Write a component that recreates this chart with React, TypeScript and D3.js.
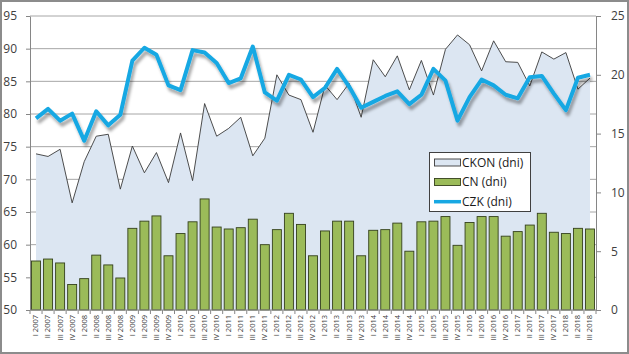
import { useEffect, useRef } from "react";
import * as d3 from "d3";

const categories = [
  "I 2007", "II 2007", "III 2007", "IV 2007",
  "I 2008", "II 2008", "III 2008", "IV 2008",
  "I 2009", "II 2009", "III 2009", "IV 2009",
  "I 2010", "II 2010", "III 2010", "IV 2010",
  "I 2011", "II 2011", "III 2011", "IV 2011",
  "I 2012", "II 2012", "III 2012", "IV 2012",
  "I 2013", "II 2013", "III 2013", "IV 2013",
  "I 2014", "II 2014", "III 2014", "IV 2014",
  "I 2015", "II 2015", "III 2015", "IV 2015",
  "I 2016", "II 2016", "III 2016", "IV 2016",
  "I 2017", "II 2017", "III 2017", "IV 2017",
  "I 2018", "II 2018", "III 2018",
];

// CKON (dni) - area, left axis
const ckonValues = [
  73.9, 73.5, 74.6, 66.4, 72.7, 76.6, 76.9, 68.5,
  75.1, 71.0, 74.1, 69.5, 77.1, 69.8, 81.6, 76.6,
  77.8, 79.5, 73.6, 76.3, 86.0, 82.9, 82.2, 77.2,
  84.4, 82.2, 84.7, 79.5, 88.3, 85.7, 88.9, 83.7,
  88.2, 82.9, 89.9, 92.1, 90.6, 86.6, 91.2, 88.0,
  87.9, 84.3, 89.5, 88.4, 89.4, 83.8, 85.5,
];

// CN (dni) - bars, left axis
const cnValues = [
  57.5, 57.8, 57.2, 53.9, 54.8, 58.4, 56.9, 54.9,
  62.5, 63.6, 64.4, 58.3, 61.7, 63.5, 67.0, 62.7,
  62.4, 62.6, 63.9, 60.0, 62.3, 64.8, 63.1, 58.3,
  62.1, 63.6, 63.6, 58.3, 62.2, 62.3, 63.3, 59.0,
  63.5, 63.6, 64.3, 59.9, 63.4, 64.3, 64.3, 61.3,
  62.0, 63.0, 64.8, 61.9, 61.7, 62.5, 62.4,
];

// CZK (dni) - line, right axis
const czkValues = [
  16.3, 17.1, 16.1, 16.7, 14.4, 16.9, 15.7, 16.6,
  21.2, 22.3, 21.7, 19.1, 18.7, 22.1, 21.9, 21.0,
  19.3, 19.7, 22.4, 18.5, 17.8, 20.0, 19.6, 18.1,
  18.9, 20.5, 19.0, 17.2, 17.7, 18.2, 18.6, 17.5,
  18.3, 20.5, 19.5, 16.1, 18.1, 19.6, 19.1, 18.3,
  18.0, 19.8, 19.9, 18.4, 17.0, 19.75, 20.0,
];

const leftTicks = [50, 55, 60, 65, 70, 75, 80, 85, 90, 95];
const rightTicks = [0, 5, 10, 15, 20, 25];
const legendLabels = ["CKON (dni)", "CN (dni)", "CZK (dni)"];

const WIDTH = 629;
const HEIGHT = 354;
const PLOT = { left: 30, right: 596, top: 16, bottom: 310 };
const FONT = "'Open Sans', 'DejaVu Sans', sans-serif";

const AREA_FILL = "#dce6f2";
const BAR_FILL = "#9bbb59";
const LINE_COLOR = "#17a8e3";
const TEXT_COLOR = "#404040";

const App = () => {
  const svgRef = useRef<SVGSVGElement>(null);

  useEffect(() => {
    const svg = d3.select(svgRef.current);
    svg.selectAll("*").remove();

    const x = d3
      .scaleBand<string>()
      .domain(categories)
      .range([PLOT.left, PLOT.right])
      .paddingInner(0.17)
      .paddingOuter(0.085);
    const step = x.step();
    const cx = (c: string) => (x(c) as number) + x.bandwidth() / 2;

    const yLeft = d3.scaleLinear().domain([50, 95]).range([PLOT.bottom, PLOT.top]);
    const yRight = d3.scaleLinear().domain([0, 25]).range([PLOT.bottom, PLOT.top]);

    const defs = svg.append("defs");
    defs
      .append("filter")
      .attr("id", "czkShadow")
      .attr("x", "-10%")
      .attr("y", "-10%")
      .attr("width", "120%")
      .attr("height", "130%")
      .append("feDropShadow")
      .attr("dx", 2)
      .attr("dy", 4)
      .attr("stdDeviation", 1.8)
      .attr("flood-color", "#000")
      .attr("flood-opacity", 0.35);

    // background + outer border
    svg
      .append("rect")
      .attr("x", 1)
      .attr("y", 1)
      .attr("width", WIDTH - 2)
      .attr("height", HEIGHT - 2)
      .attr("fill", "#fff")
      .attr("stroke", "#8c8c8c")
      .attr("stroke-width", 2);

    // gridlines
    svg
      .append("g")
      .selectAll("line")
      .data(leftTicks.slice(1))
      .enter()
      .append("line")
      .attr("x1", PLOT.left)
      .attr("x2", PLOT.right)
      .attr("y1", (d) => yLeft(d))
      .attr("y2", (d) => yLeft(d))
      .attr("stroke", "#a6a6a6")
      .attr("stroke-width", 1);

    // CKON area
    const area = d3
      .area<number>()
      .x((_, i) => cx(categories[i]))
      .y0(PLOT.bottom)
      .y1((d) => yLeft(d));
    svg.append("path").datum(ckonValues).attr("d", area).attr("fill", AREA_FILL);

    const ckonLine = d3
      .line<number>()
      .x((_, i) => cx(categories[i]))
      .y((d) => yLeft(d));
    svg
      .append("path")
      .datum(ckonValues)
      .attr("d", ckonLine)
      .attr("fill", "none")
      .attr("stroke", "#3a3a3a")
      .attr("stroke-width", 0.9);

    // CN bars
    svg
      .append("g")
      .selectAll("rect")
      .data(cnValues)
      .enter()
      .append("rect")
      .attr("x", (_, i) => (x(categories[i]) as number) + 0.5)
      .attr("y", (d) => yLeft(d))
      .attr("width", x.bandwidth() - 1)
      .attr("height", (d) => PLOT.bottom - yLeft(d))
      .attr("fill", BAR_FILL)
      .attr("stroke", "#34401c")
      .attr("stroke-width", 0.9);

    // CZK line
    const czkLine = d3
      .line<number>()
      .x((_, i) => cx(categories[i]))
      .y((d) => yRight(d));
    svg
      .append("path")
      .datum(czkValues)
      .attr("d", czkLine)
      .attr("fill", "none")
      .attr("stroke", LINE_COLOR)
      .attr("stroke-width", 4)
      .attr("stroke-linejoin", "round")
      .attr("filter", "url(#czkShadow)");

    // left axis
    const leftAxis = svg
      .append("g")
      .attr("transform", `translate(${PLOT.left},0)`)
      .call(d3.axisLeft(yLeft).tickValues(leftTicks).tickSize(4).tickSizeOuter(0).tickPadding(9));
    // right axis
    const rightAxis = svg
      .append("g")
      .attr("transform", `translate(${PLOT.right},0)`)
      .call(d3.axisRight(yRight).tickValues(rightTicks).tickSize(5).tickSizeOuter(0).tickPadding(10));

    [leftAxis, rightAxis].forEach((g) => {
      g.select(".domain").attr("stroke", "#868686");
      g.selectAll(".tick line").attr("stroke", "#868686");
      g.selectAll(".tick text")
        .attr("fill", TEXT_COLOR)
        .style("font-family", FONT)
        .style("font-size", "12px");
    });

    // bottom axis
    const bottom = svg.append("g");
    bottom
      .append("line")
      .attr("x1", PLOT.left)
      .attr("x2", PLOT.right)
      .attr("y1", PLOT.bottom)
      .attr("y2", PLOT.bottom)
      .attr("stroke", "#868686");
    const boundaries = categories.map((c) => (x(c) as number) - (step - x.bandwidth()) / 2);
    boundaries.push(PLOT.right);
    bottom
      .selectAll("line.tick")
      .data(boundaries)
      .enter()
      .append("line")
      .attr("class", "tick")
      .attr("x1", (d) => d)
      .attr("x2", (d) => d)
      .attr("y1", PLOT.bottom)
      .attr("y2", PLOT.bottom + 4)
      .attr("stroke", "#868686");
    bottom
      .selectAll("text")
      .data(categories)
      .enter()
      .append("text")
      .attr("transform", (d) => `translate(${cx(d)},${PLOT.bottom + 5}) rotate(-90)`)
      .attr("dy", "0.32em")
      .attr("text-anchor", "end")
      .attr("fill", TEXT_COLOR)
      .style("font-family", FONT)
      .style("font-size", "7.5px")
      .text((d) => d);

    // legend
    const legend = svg.append("g").attr("transform", "translate(429,152)");
    legend
      .append("rect")
      .attr("x", 0.5)
      .attr("y", 0.5)
      .attr("width", 101)
      .attr("height", 59)
      .attr("fill", "#fff")
      .attr("stroke", "#404040")
      .attr("stroke-width", 1);

    const rowY = [10.5, 30, 49.7];
    legend
      .append("rect")
      .attr("x", 5.5)
      .attr("y", rowY[0] - 3.5)
      .attr("width", 26)
      .attr("height", 7)
      .attr("fill", AREA_FILL)
      .attr("stroke", "#3a3a3a")
      .attr("stroke-width", 0.9);
    legend
      .append("rect")
      .attr("x", 5.5)
      .attr("y", rowY[1] - 3.5)
      .attr("width", 26)
      .attr("height", 7)
      .attr("fill", BAR_FILL)
      .attr("stroke", "#34401c")
      .attr("stroke-width", 0.9);
    legend
      .append("line")
      .attr("x1", 5)
      .attr("x2", 32)
      .attr("y1", rowY[2])
      .attr("y2", rowY[2])
      .attr("stroke", LINE_COLOR)
      .attr("stroke-width", 3.5);

    legend
      .selectAll("text")
      .data(legendLabels)
      .enter()
      .append("text")
      .attr("x", 33)
      .attr("y", (_, i) => rowY[i])
      .attr("dy", "0.35em")
      .attr("fill", "#1a1a1a")
      .style("font-family", FONT)
      .style("font-size", "12px")
      .text((d) => d);
  }, []);

  return (
    <svg
      ref={svgRef}
      width={WIDTH}
      height={HEIGHT}
      style={{ position: "absolute", left: 0, top: 0, display: "block" }}
    />
  );
};

export default App;
